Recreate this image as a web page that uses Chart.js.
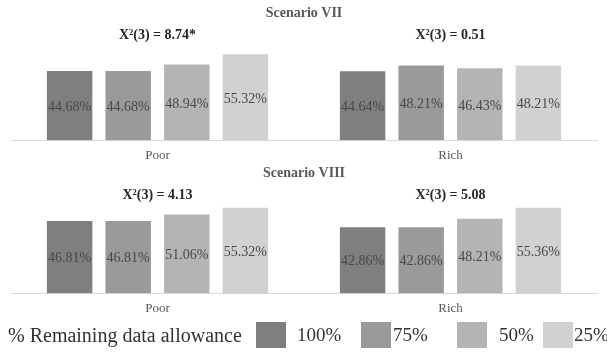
<!DOCTYPE html>
<html>
<head>
<meta charset="utf-8">
<script src="https://cdn.jsdelivr.net/npm/chart.js@4.4.1/dist/chart.umd.min.js"></script>
<style>
  body { margin: 0; width: 607px; height: 358px; background: #fff; position: relative; overflow: hidden; font-family: "Liberation Serif", "Times New Roman", serif; }
  canvas { position: absolute; left: 0; }
  #c7 { top: 0; }
  #c8 { top: 160px; }
  #legend { position: absolute; left: 0; top: 0; width: 607px; height: 358px; pointer-events: none; color: #333; font-size: 20px; }
  #legend .ttl, #legend .lbl { position: absolute; top: 323px; line-height: 24px; white-space: nowrap; }
  #legend .lbl { font-size: 19px; }
  #legend .box { position: absolute; top: 322px; width: 30px; height: 26px; }
</style>
</head>
<body>
<canvas id="c7" width="607" height="170"></canvas>
<canvas id="c8" width="607" height="163"></canvas>
<div id="legend"></div>
<script>
const groups = ["Poor", "Rich"];
const seriesNames = ["100%", "75%", "50%", "25%"];
const seriesColors = ["#7f7f7f", "#9a9a9a", "#b4b4b4", "#d1d1d1"];

// Scenario VII
const s7Chi = ["X\u00b2(3) = 8.74*", "X\u00b2(3) = 0.51"];
const s7_100 = [44.68, 44.64];
const s7_75 = [44.68, 48.21];
const s7_50 = [48.94, 46.43];
const s7_25 = [55.32, 48.21];

// Scenario VIII
const s8Chi = ["X\u00b2(3) = 4.13", "X\u00b2(3) = 5.08"];
const s8_100 = [46.81, 42.86];
const s8_75 = [46.81, 42.86];
const s8_50 = [51.06, 48.21];
const s8_25 = [55.32, 55.36];

const legendTitle = "% Remaining data allowance";
const legendBoxLeft = [256, 361, 457, 543];
const legendTextLeft = [297, 393, 499, 574];

const serif = "'Liberation Serif', 'Times New Roman', serif";

// values written in the middle of each bar
const barLabels = {
  id: "barLabels",
  afterDatasetsDraw(chart) {
    const ctx = chart.ctx;
    ctx.save();
    ctx.font = "14px " + serif;
    ctx.fillStyle = "#474747";
    ctx.textAlign = "center";
    ctx.textBaseline = "middle";
    chart.data.datasets.forEach((ds, i) => {
      chart.getDatasetMeta(i).data.forEach((bar, j) => {
        const y = (bar.y + bar.base) / 2 + 2;
        ctx.fillText(ds.data[j].toFixed(2) + "%", bar.x, y);
      });
    });
    ctx.restore();
  }
};

function makeChart(id, title, chi, series, yMax) {
  const ctx = document.getElementById(id).getContext("2d");
  return new Chart(ctx, {
    type: "bar",
    data: {
      labels: groups,
      datasets: series.map((d, i) => ({
        label: seriesNames[i],
        data: d,
        backgroundColor: seriesColors[i],
        borderColor: "rgba(255,255,255,0.35)",
        borderWidth: 1,
        categoryPercentage: 0.8,
        barPercentage: 0.81
      }))
    },
    options: {
      responsive: false,
      animation: false,
      events: [],
      layout: { padding: { left: 11, right: 10, top: 5, bottom: 0 } },
      plugins: {
        legend: { display: false },
        tooltip: { enabled: false },
        title: {
          display: true,
          text: title,
          color: "#595959",
          font: { family: serif, size: 14, weight: "bold" },
          padding: { top: 0, bottom: 2 }
        }
      },
      scales: {
        x: {
          grid: { display: false, drawTicks: false },
          border: { color: "#d9d9d9", width: 1 },
          ticks: { color: "#595959", font: { family: serif, size: 13 }, padding: 7 }
        },
        x2: {
          type: "category",
          labels: chi,
          position: "top",
          offset: true,
          grid: { display: false, drawTicks: false },
          border: { display: false },
          ticks: {
            color: "#262626",
            font: { family: serif, size: 14, weight: "bold" },
            padding: 3,
            autoSkip: false,
            maxRotation: 0
          }
        },
        y: { display: false, min: 0, max: yMax }
      }
    },
    plugins: [barLabels]
  });
}

makeChart("c7", "Scenario VII", s7Chi, [s7_100, s7_75, s7_50, s7_25], 59.6);
makeChart("c8", "Scenario VIII", s8Chi, [s8_100, s8_75, s8_50, s8_25], 55.4);

// legend row
const legend = document.getElementById("legend");
const t = document.createElement("div");
t.className = "ttl";
t.style.left = "8px";
t.textContent = legendTitle;
legend.appendChild(t);
seriesNames.forEach((name, i) => {
  const b = document.createElement("div");
  b.className = "box";
  b.style.left = legendBoxLeft[i] + "px";
  b.style.background = seriesColors[i];
  legend.appendChild(b);
  const l = document.createElement("div");
  l.className = "lbl";
  l.style.left = legendTextLeft[i] + "px";
  l.textContent = name;
  legend.appendChild(l);
});
</script>
</body>
</html>
